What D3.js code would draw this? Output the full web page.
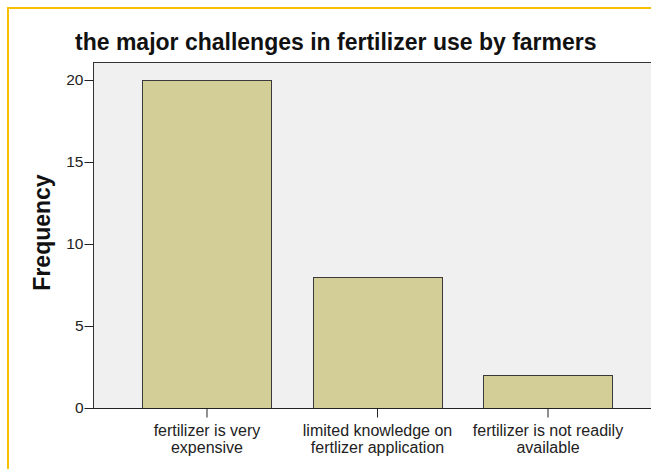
<!DOCTYPE html>
<html>
<head>
<meta charset="utf-8">
<script src="https://cdn.jsdelivr.net/npm/d3@7"></script>
<style>
  html, body { margin: 0; padding: 0; background: #ffffff; }
  svg { display: block; }
</style>
</head>
<body>
<script>
// ---- data ----
const categories = [
  ["fertilizer is very", "expensive"],
  ["limited knowledge on", "fertlizer application"],
  ["fertilizer is not readily", "available"]
];
const frequencies = [20, 8, 2];
const yTicks = [0, 5, 10, 15, 20];
const chartTitle = "the major challenges in fertilizer use by farmers";
const yTitle = "Frequency";

// ---- layout ----
const W = 651, H = 469;
const plotL = 93, plotT = 62, plotB = 408, plotR = 720;

const svg = d3.select("body").append("svg")
  .attr("width", W).attr("height", H);

// outer yellow frame (extends past the right/bottom edges)
svg.append("rect")
  .attr("x", 8).attr("y", 8)
  .attr("width", 800).attr("height", 600)
  .attr("fill", "#ffffff")
  .attr("stroke", "#f7c000").attr("stroke-width", 2);

const keys = categories.map((c, i) => "c" + i);

const y = d3.scaleLinear().domain([0, 20]).range([plotB, 80]);

const x = d3.scaleBand()
  .domain(keys)
  .range([plotL, 662])
  .paddingInner(0.243)
  .paddingOuter(0.29);

// plot background
svg.append("rect")
  .attr("x", plotL + 0.5).attr("y", plotT + 0.5)
  .attr("width", plotR - plotL).attr("height", plotB - plotT)
  .attr("fill", "#f0f0f0")
  .attr("stroke", "#333333").attr("stroke-width", 1);

// bars
svg.append("g").selectAll("rect")
  .data(frequencies)
  .join("rect")
  .attr("x", (d, i) => Math.round(x(keys[i])) + 0.5)
  .attr("y", d => Math.round(y(d)) + 0.5)
  .attr("width", Math.round(x.bandwidth()))
  .attr("height", d => Math.round(plotB - y(d)))
  .attr("fill", "#d3ce98")
  .attr("stroke", "#3a3a3a").attr("stroke-width", 1);

// y axis
const yAxis = svg.append("g")
  .attr("transform", `translate(${plotL + 0.5},0)`)
  .call(d3.axisLeft(y).tickValues(yTicks).tickSize(9).tickPadding(1).tickSizeOuter(0));
yAxis.select(".domain").remove();
yAxis.selectAll("line").attr("stroke", "#222");
yAxis.selectAll("text")
  .attr("font-family", "'Liberation Sans', Arial, sans-serif")
  .attr("font-size", 15.5)
  .attr("fill", "#222");

// x axis
const xAxis = svg.append("g")
  .attr("transform", `translate(0,${plotB + 0.5})`)
  .call(d3.axisBottom(x).tickSize(9).tickSizeOuter(0).tickFormat(() => ""));
xAxis.select(".domain").attr("stroke", "#222").attr("d", `M${plotL},0H${plotR}`);
xAxis.selectAll("line").attr("stroke", "#222");
xAxis.selectAll(".tick").each(function(k, i) {
  const t = d3.select(this).select("text");
  t.attr("font-family", "'Liberation Sans', Arial, sans-serif")
   .attr("font-size", 16)
   .attr("fill", "#222")
   .attr("dy", null)
   .attr("y", 27)
   .text(null);
  categories[i].forEach((line, j) => {
    t.append("tspan").attr("x", 0).attr("y", 27 + j * 17).text(line);
  });
});

// title
svg.append("text")
  .attr("x", 75).attr("y", 50)
  .attr("font-family", "'Liberation Sans', Arial, sans-serif")
  .attr("font-weight", "bold")
  .attr("font-size", 23)
  .attr("fill", "#111")
  .text(chartTitle);

// y title
svg.append("text")
  .attr("transform", "translate(50,232.5) rotate(-90)")
  .attr("text-anchor", "middle")
  .attr("font-family", "'Liberation Sans', Arial, sans-serif")
  .attr("font-weight", "bold")
  .attr("font-size", 23)
  .attr("fill", "#111")
  .text(yTitle);
</script>
</body>
</html>
